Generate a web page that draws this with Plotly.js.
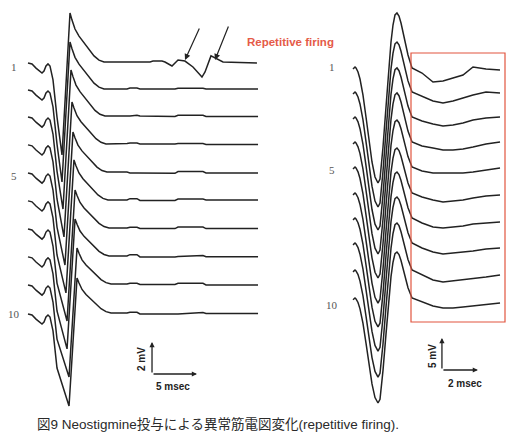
<!DOCTYPE html>
<html>
<head>
<meta charset="utf-8">
<script src="https://cdn.plot.ly/plotly-3.0.1.min.js"></script>
<style>html,body{margin:0;padding:0;background:#fff;}#chart{width:507px;height:432px;}</style>
</head>
<body>
<div id="chart"></div>
<script>
// ---------- LEFT panel (2 mV / 5 msec) ----------
// template waveform of trace 1 (ms, mV relative to its baseline)
const leftT  = [0, 0.444, 0.889, 1.333, 1.556, 1.778, 2.0, 2.222, 2.444, 2.778, 3.222, 3.778, 4.667, 4.889, 5.222, 5.667, 6.222, 6.778, 7.333, 7.889, 8.444];
const leftV1 = [-0.06, -0.12, -0.38, -0.62, -0.69, -0.56, -0.25, -0.12, -0.25, -1.12, -3.44, -5.81, 3.06, 2.62, 2.06, 1.62, 1.19, 0.75, 0.38, 0.12, 0];
const leftPeak  = [3.06, 2.94, 2.88, 2.62, 2.5, 2.5, 2.38, 2.31, 2.25, 2.19];
const leftShift = [0, 0, 0.11, 0.22, 0.33, 0.44, 0.56, 0.56, 0.78, 0.78];
const leftBase  = [0, -1.69, -3.38, -5.12, -6.88, -8.62, -10.38, -12.12, -13.88, -15.69];
// trace 1 tail with the repetitive firing
const firingT = [13.56, 13.89, 14.89, 15.22, 16.0, 16.67, 17.44, 18.33, 19.33, 19.67, 20.33, 21.0, 21.67, 25.44];
const firingV = [0, 0.06, 0.06, 0, -0.25, 0.12, 0.06, -0.31, -0.94, -0.62, 0.38, 0.19, 0, -0.06];
// small baseline artefacts of traces 2-10
const leftArtT = [11.0, 11.33, 12.11, 12.44, 16.33, 16.67, 19.44, 19.78, 25.56];
const leftArt = [
  [0, 0.06, 0.06, 0, 0, 0.05, 0.05, 0, 0],
  [0, 0, 0.05, 0, -0.03, 0.05, 0.05, -0.03, -0.03],
  [0.03, 0.06, 0.06, 0, 0, 0.03, 0.03, -0.03, -0.03],
  [0, -0.05, -0.05, -0.05, -0.08, 0.03, 0.03, -0.05, -0.05],
  [0, 0.08, 0.08, -0.03, -0.03, 0.05, 0.05, 0, 0],
  [0, 0.05, 0.05, -0.03, -0.03, 0.06, 0.06, -0.03, -0.03],
  [0, 0.08, 0.08, -0.06, -0.06, -0.03, 0.03, -0.05, -0.05],
  [0, 0.05, 0.05, -0.03, -0.03, 0.05, 0.05, -0.05, -0.05],
  [0, 0.05, 0.05, -0.06, -0.06, -0.06, 0.03, -0.03, -0.03]
];

// ---------- RIGHT panel (5 mV / 2 msec) ----------
const rightT  = [-0.111, 0, 0.056, 0.167, 0.278, 0.444, 0.611, 0.778, 0.944, 1.111, 1.278, 1.389, 1.556, 1.722, 1.889, 2.0, 2.111, 2.222, 2.333, 2.444, 2.556, 2.667, 2.778, 2.944];
const rightV1 = [-0.31, 0, -0.16, -0.78, -1.88, -4.38, -7.81, -11.72, -14.84, -17.19, -18.13, -17.5, -12.5, -6.25, 0, 3.91, 6.56, 8.13, 8.44, 7.97, 6.88, 5.47, 3.91, 1.88];
const rightPeak  = [8.44, 7.81, 7.66, 7.66, 7.34, 7.03, 7.19, 7.19, 7.34, 7.19];
const rightDepth = [18.13, 17.97, 17.66, 17.5, 17.34, 17.19, 17.03, 16.88, 16.72, 16.41];
const rightBase  = [0, -3.91, -7.81, -11.72, -15.63, -19.69, -23.59, -27.5, -31.72, -36.09];
const rightBoxT = [3.167, 3.722, 4.333, 4.889, 5.444, 6.0, 6.556, 7.278, 8.056];
const rightBox = [
  [-0.16, -0.94, -2.34, -2.19, -1.72, -1.25, 0, -0.31, -0.47],
  [0, -0.63, -1.41, -1.72, -1.41, -0.94, -0.47, 0, -0.16],
  [0, -0.63, -1.09, -1.41, -1.25, -0.94, -0.47, -0.16, 0],
  [0, -0.63, -0.94, -1.25, -1.25, -1.09, -0.78, -0.31, 0],
  [0, -0.63, -0.94, -0.94, -0.94, -0.94, -0.78, -0.47, -0.16],
  [0, -0.63, -1.09, -1.41, -1.25, -1.09, -0.78, -0.47, -0.31],
  [0, -0.78, -1.41, -1.56, -1.41, -1.25, -0.94, -0.78, -0.63],
  [0, -0.78, -1.41, -1.72, -1.56, -1.41, -1.25, -0.94, -0.78],
  [0, -0.78, -1.56, -1.88, -1.72, -1.56, -1.41, -1.09, -0.78],
  [0, -0.63, -1.25, -1.56, -1.56, -1.41, -1.25, -1.09, -0.78]
];

const traceLabels = ['1', '5', '10'];

// ---------- build traces ----------
const LINE = {color: '#222', width: 1.5, shape: 'linear'};
const data = [];
for (let k = 0; k < leftBase.length; k++) {
  const xs = [], ys = [];
  for (let i = 0; i < leftT.length; i++) {
    let v = leftV1[i];
    if (i >= 12) v = v * leftPeak[k] / leftPeak[0];
    xs.push(leftT[i] + (leftT[i] >= 3.5 ? leftShift[k] : 0));
    ys.push(leftBase[k] + v);
  }
  if (k === 0) {
    firingT.forEach((t, i) => { xs.push(t); ys.push(leftBase[k] + firingV[i]); });
  } else {
    leftArtT.forEach((t, i) => { xs.push(t); ys.push(leftBase[k] + leftArt[k - 1][i]); });
  }
  data.push({x: xs, y: ys, type: 'scatter', mode: 'lines', line: LINE, xaxis: 'x', yaxis: 'y', hoverinfo: 'skip'});
}
for (let k = 0; k < rightBase.length; k++) {
  const xs = [], ys = [];
  for (let i = 0; i < rightT.length; i++) {
    let v = rightV1[i];
    v = v > 0 ? v * rightPeak[k] / rightPeak[0] : v * rightDepth[k] / rightDepth[0];
    xs.push(rightT[i]);
    ys.push(rightBase[k] + v);
  }
  rightBoxT.forEach((t, i) => { xs.push(t); ys.push(rightBase[k] + rightBox[k][i]); });
  data.push({x: xs, y: ys, type: 'scatter', mode: 'lines', line: LINE, xaxis: 'x2', yaxis: 'y2', hoverinfo: 'skip'});
}

// ---------- layout ----------
const W = 507, H = 432;
const px = v => v / W, py = v => 1 - v / H;
const NUM = {family: 'Liberation Serif, serif', size: 11, color: '#555'};
const SB = {family: 'Liberation Sans, Arial, sans-serif', size: 10, color: '#222'};
const ann = [];
const leftLabelY = [67, 176, 314], rightLabelY = [67, 170, 305];
traceLabels.forEach((t, i) => {
  ann.push({text: t, xref: 'paper', yref: 'paper', x: px(14), y: py(leftLabelY[i]), showarrow: false, font: NUM, xanchor: 'center', yanchor: 'middle'});
  ann.push({text: t, xref: 'paper', yref: 'paper', x: px(332), y: py(rightLabelY[i]), showarrow: false, font: NUM, xanchor: 'center', yanchor: 'middle'});
});
ann.push({text: 'Repetitive firing', xref: 'paper', yref: 'paper', x: px(245), y: py(42), xanchor: 'left', yanchor: 'middle', showarrow: false,
  font: {family: 'Liberation Sans, Arial, sans-serif', size: 11.5, color: '#e55a48', weight: 'bold'}});
ann.push({text: '', xref: 'paper', yref: 'paper', x: px(185), y: py(60), ax: 15, ay: -33, showarrow: true, arrowhead: 2, arrowsize: 1, arrowwidth: 1.2, arrowcolor: '#222'});
ann.push({text: '', xref: 'paper', yref: 'paper', x: px(215), y: py(60), ax: 14, ay: -35, showarrow: true, arrowhead: 2, arrowsize: 1, arrowwidth: 1.2, arrowcolor: '#222'});
// scale bars (data units)
const lsb = {t: 13.78, v: -19.5, dv: 2, dt: 5};
const rsb = {t: 4.83, v: -47.34, dv: 5, dt: 2};
[[lsb, 'x', 'y'], [rsb, 'x2', 'y2']].forEach(([s, xr, yr]) => {
  ann.push({text: '', xref: xr, yref: yr, axref: xr, ayref: yr, x: s.t, y: s.v + s.dv, ax: s.t, ay: s.v, showarrow: true, arrowhead: 2, arrowsize: 0.8, arrowwidth: 1.3, arrowcolor: '#222'});
  ann.push({text: '', xref: xr, yref: yr, axref: xr, ayref: yr, x: s.t + s.dt, y: s.v, ax: s.t, ay: s.v, showarrow: true, arrowhead: 2, arrowsize: 0.8, arrowwidth: 1.3, arrowcolor: '#222'});
});
ann.push({text: '<b>2 mV</b>', xref: 'paper', yref: 'paper', x: px(141), y: py(359), textangle: -90, showarrow: false, font: SB, xanchor: 'center', yanchor: 'middle'});
ann.push({text: '<b>5 msec</b>', xref: 'paper', yref: 'paper', x: px(173), y: py(386), showarrow: false, font: SB, xanchor: 'center', yanchor: 'middle'});
ann.push({text: '<b>5 mV</b>', xref: 'paper', yref: 'paper', x: px(432), y: py(356), textangle: -90, showarrow: false, font: SB, xanchor: 'center', yanchor: 'middle'});
ann.push({text: '<b>2 msec</b>', xref: 'paper', yref: 'paper', x: px(465), y: py(383), showarrow: false, font: SB, xanchor: 'center', yanchor: 'middle'});
ann.push({text: '図9 Neostigmine投与による異常筋電図変化(repetitive firing).', xref: 'paper', yref: 'paper', x: px(35), y: py(424), xanchor: 'left', yanchor: 'middle', showarrow: false,
  font: {family: 'Liberation Sans, Noto Sans CJK JP, sans-serif', size: 13.5, color: '#2a2a2a'}});

const layout = {
  width: W, height: H, margin: {l: 0, r: 0, t: 0, b: 0},
  paper_bgcolor: '#fff', plot_bgcolor: 'rgba(0,0,0,0)', showlegend: false,
  xaxis:  {domain: [0, 1], range: [-28 / 9, -28 / 9 + W / 9], visible: false, fixedrange: true},
  yaxis:  {domain: [0, 1], range: [62 / 16 - H / 16, 62 / 16], visible: false, fixedrange: true},
  xaxis2: {domain: [0, 1], range: [-355 / 18, -355 / 18 + W / 18], visible: false, overlaying: 'x', anchor: 'y2', fixedrange: true},
  yaxis2: {domain: [0, 1], range: [67 / 6.4 - H / 6.4, 67 / 6.4], visible: false, overlaying: 'y', anchor: 'x2', fixedrange: true},
  shapes: [
    {type: 'rect', xref: 'paper', yref: 'paper', x0: px(411), x1: px(505), y0: py(322), y1: py(53), line: {color: '#e2553f', width: 1.2}}
  ],
  annotations: ann
};
Plotly.newPlot('chart', data, layout, {staticPlot: true, displayModeBar: false});
</script>
</body>
</html>
